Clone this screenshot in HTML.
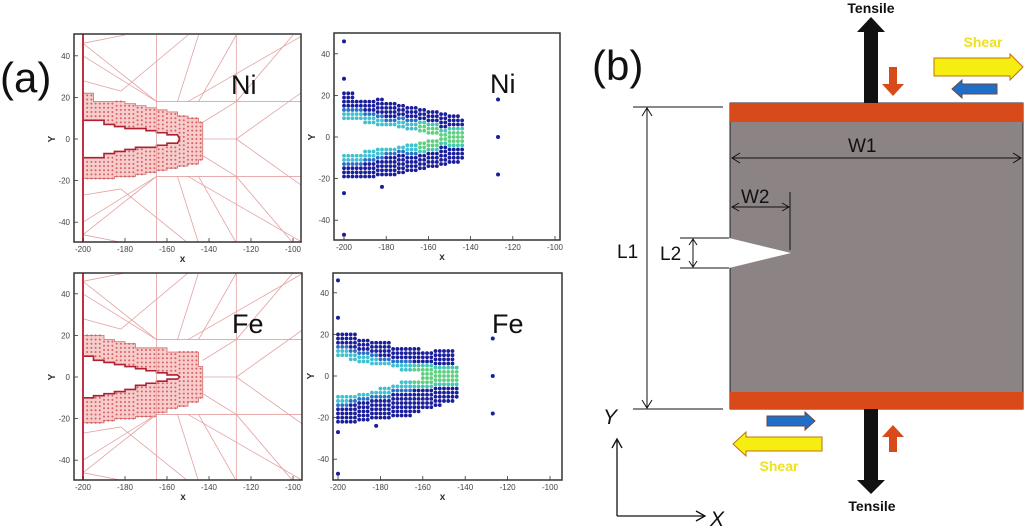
<!DOCTYPE html>
<html><head><meta charset="utf-8"><style>
html,body{margin:0;padding:0;background:#fff;}
svg{display:block;font-family:"Liberation Sans",Arial,sans-serif;}
</style></head><body>
<svg id="fig" width="1024" height="527" viewBox="0 0 1024 527">
<text x="0" y="92" font-size="42" fill="#111">(a)</text>
<text x="592" y="80" font-size="42" fill="#111">(b)</text>
<g id="panels"></g>
<g id="schematic">
  <rect x="730" y="103" width="293" height="306" fill="#8c8385" stroke="#222" stroke-width="1"/>
  <rect x="730" y="103" width="293" height="19" fill="#d84a1a"/>
  <rect x="730" y="392" width="293" height="17" fill="#d84a1a"/>
  <polygon points="729,238 791,253 729,268" fill="#fff"/>
  <g stroke="#111" stroke-width="1" fill="none">
    <line x1="633" y1="107" x2="723" y2="107"/><line x1="633" y1="409" x2="723" y2="409"/>
    <line x1="647" y1="108" x2="647" y2="408"/>
    <polyline points="642,116 647,108 652,116"/><polyline points="642,400 647,408 652,400"/>
    <line x1="732" y1="158" x2="1021" y2="158"/>
    <polyline points="740,153 732,158 740,163"/><polyline points="1013,153 1021,158 1013,163"/>
    <line x1="790" y1="192" x2="790" y2="250"/>
    <line x1="732" y1="207" x2="789" y2="207"/>
    <polyline points="739,203 732,207 739,211"/><polyline points="782,203 789,207 782,211"/>
    <line x1="680" y1="238" x2="729" y2="238"/><line x1="680" y1="268" x2="729" y2="268"/>
    <line x1="693" y1="239" x2="693" y2="267"/>
    <polyline points="689,245 693,239 697,245"/><polyline points="689,261 693,267 697,261"/>
  </g>
  <g font-size="19" fill="#111">
    <text x="848" y="152">W1</text><text x="741" y="203">W2</text>
    <text x="617" y="258">L1</text><text x="660" y="260">L2</text>
  </g>
  <polygon points="864,103 864,32 857,32 871,17 885,32 878,32 878,103" fill="#111"/>
  <text x="871" y="13" font-size="14" font-weight="bold" text-anchor="middle" fill="#111">Tensile</text>
  <polygon points="864,409 864,480 857,480 871,494 885,480 878,480 878,409" fill="#111"/>
  <text x="872" y="511" font-size="14" font-weight="bold" text-anchor="middle" fill="#111">Tensile</text>
  <polygon points="889,67 897,67 897,84 904,84 893,96 882,84 889,84" fill="#d84a1a"/>
  <polygon points="889,452 897,452 897,437 904,437 893,425 882,437 889,437" fill="#d84a1a"/>
  <polygon points="934,58 1010,58 1010,54 1023,67 1010,80 1010,76 934,76" fill="#f5ee10" stroke="#c07010" stroke-width="1"/>
  <polygon points="997,84 962,84 962,80 952,89 962,98 962,94 997,94" fill="#1f6fc8" stroke="#6a4a40" stroke-width="1"/>
  <text x="983" y="47" font-size="14" font-weight="bold" text-anchor="middle" fill="#f0e020">Shear</text>
  <polygon points="767,416 805,416 805,412 815,421 805,430 805,426 767,426" fill="#1f6fc8" stroke="#6a4a40" stroke-width="1"/>
  <polygon points="822,437 746,437 746,432 733,444 746,456 746,451 822,451" fill="#f5ee10" stroke="#c07010" stroke-width="1"/>
  <text x="779" y="471" font-size="14" font-weight="bold" text-anchor="middle" fill="#f0e020">Shear</text>
  <g stroke="#111" stroke-width="1.3" fill="none">
    <line x1="617" y1="516" x2="617" y2="440"/><polyline points="612,448 617,439 622,448"/>
    <line x1="617" y1="516" x2="704" y2="516"/><polyline points="696,511 705,516 696,521"/>
  </g>
  <text x="603" y="424" font-size="21" font-style="italic" fill="#111">Y</text>
  <text x="710" y="526" font-size="21" font-style="italic" fill="#111">X</text>
</g>
</svg>
<script>
// ---- data ----
const binX = [-200,-195,-190,-185,-180,-175,-170,-165,-160,-155,-150,-145];
const niOuterTop = [22,18,18,18,17,16,15,14,13,11,10,8];
const niInnerTop = [9,9,7,6,5,5,4,3,2,0,0,0];
const niInnerBot = [-9,-9,-7,-6,-5,-4,-4,-3,-2,0,0,0];
const niOuterBot = [-19,-19,-19,-18,-18,-17,-16,-15,-14,-13,-12,-10];
const feOuterTop = [20,20,18,17,16,14,14,14,12,12,12,5];
const feInnerTop = [10,8,7,6,5,4,3,2,1,0,0,0];
const feInnerBot = [-10,-9,-8,-7,-6,-4,-3,-2,-1,0,0,0];
const feOuterBot = [-22,-22,-21,-20,-20,-19,-19,-17,-15,-14,-12,-10];
const xTicks = [-200,-180,-160,-140,-120,-100];
const yTicks = [40,20,0,-20,-40];
const stray = [[-200,46],[-200,28],[-200,-27],[-200,-47],[-127,18],[-127,0],[-127,-18],[-182,-24]];
const meshSegs = [[-127,50,-127,-50],[-165,18,-95,18],[-165,-18,-95,-18],[-165,50,-165,-50],[-200,46,-165,18],[-200,-46,-165,-18],
 [-145,18,-127,50],[-145,-18,-127,-50],[-143,0,-127,0],[-127,0,-95,23],[-127,0,-95,-23],[-143,8,-127,18],[-143,-8,-127,-18],
 [-200,28,-182,23],[-200,-27,-182,-24],[-182,23,-150,50],[-182,-24,-150,-50],[-150,18,-95,50],[-150,-18,-95,-50],[-155,18,-145,50],[-155,-18,-145,-50],
 [-200,46,-180,50],[-200,-46,-180,-50],[-165,18,-200,40],[-165,-18,-200,-40],[-127,18,-100,50],[-127,-18,-100,-50]];

const panels = [
 {name:'ni-mesh', type:'mesh', x0:83, y0:139, sx:2.1, sy:2.08, box:[74,34,301,242], label:'Ni', oT:niOuterTop, iT:niInnerTop, iB:niInnerBot, oB:niOuterBot},
 {name:'ni-scatter', type:'scatter', x0:344, y0:137, sx:2.11, sy:2.08, box:[334,33,560,240], label:'Ni', oT:niOuterTop, iT:niInnerTop, iB:niInnerBot, oB:niOuterBot},
 {name:'fe-mesh', type:'mesh', x0:83, y0:377, sx:2.1, sy:2.08, box:[74,273,302,480], label:'Fe', oT:feOuterTop, iT:feInnerTop, iB:feInnerBot, oB:feOuterBot},
 {name:'fe-scatter', type:'scatter', x0:338, y0:376, sx:2.12, sy:2.08, box:[333,273,562,480], label:'Fe', oT:feOuterTop, iT:feInnerTop, iB:feInnerBot, oB:feOuterBot}
];
const NS='http://www.w3.org/2000/svg';
const root=document.getElementById('panels');
function mk(tag,attrs,parent){const e=document.createElementNS(NS,tag);for(const k in attrs)e.setAttribute(k,attrs[k]);parent.appendChild(e);return e;}
const XEND=-143;
panels.forEach(p=>{
  const g=mk('g',{},root);
  
  
  const X=v=>p.x0+(v+200)*p.sx, Y=v=>p.y0-v*p.sy;
  const [l,t,r,b]=p.box;
  const clipId='c'+p.name; const cp=mk('clipPath',{id:clipId},g); mk('rect',{x:l,y:t,width:r-l,height:b-t},cp);
  const inner=mk('g',{'clip-path':'url(#'+clipId+')'},g);
  const dots=[];
  for(let x=-200;x<=XEND;x+=2){
    const i=Math.min(binX.length-1,Math.floor((x+200)/5));
    for(let y=p.oB[i];y<=p.oT[i];y+=2){
      if(p.iT[i]>p.iB[i] && y<p.iT[i] && y>p.iB[i]) continue;
      const dEdge=p.iT[i]>p.iB[i]?Math.min(Math.abs(y-p.iT[i]),Math.abs(y-p.iB[i])):Math.abs(y);
      dots.push([x,y,dEdge,i]);
    }
  }
  const xe=v=>Math.min(v,XEND);
  if(p.type==='mesh'){
    let top='',bot='';
    binX.forEach((bx,i)=>{top+=X(bx)+','+Y(p.oT[i])+' '+X(xe(bx+5))+','+Y(p.oT[i])+' ';});
    for(let i=binX.length-1;i>=0;i--){bot+=X(xe(binX[i]+5))+','+Y(p.oB[i])+' '+X(binX[i])+','+Y(p.oB[i])+' ';}
    const reg=mk('polygon',{points:top+bot,fill:'#f6cccc',stroke:'#d87878','stroke-width':0.9},inner);
    
    
    dots.forEach(d=>{mk('circle',{cx:X(d[0]),cy:Y(d[1]),r:1,fill:'#d86060'},inner);});
    let crack='';
    binX.forEach((bx,i)=>{if(p.iT[i]>p.iB[i])crack+=X(bx)+','+Y(p.iT[i])+' '+X(bx+5)+','+Y(p.iT[i])+' ';});
    const tipI=p.iT.findIndex(v=>v<=0);crack+=X(binX[tipI]+1)+','+Y(0)+' ';
    for(let i=tipI-1;i>=0;i--){crack+=X(binX[i]+5)+','+Y(p.iB[i])+' '+X(binX[i])+','+Y(p.iB[i])+' ';}
    const cr=mk('polygon',{points:crack,fill:'#fff',stroke:'#b02030','stroke-width':1.6},inner);
    
    
    meshSegs.forEach(s=>{mk('line',{x1:X(s[0]),y1:Y(s[1]),x2:X(s[2]),y2:Y(s[3]),stroke:'#e4a0a0','stroke-width':0.8},inner);});
    mk('line',{x1:X(-200),y1:t,x2:X(-200),y2:b,stroke:'#c03040','stroke-width':2},inner);
  } else {
    dots.forEach(d=>{
      let col='#1a1e9a';
      if(d[2]<2.1) col = (d[3]>=7? '#60d080':'#40c0d0');
      else if(d[2]<4.1 && d[3]>=7) col='#40c8b0';
      else if(d[2]<4.1) col='#2a70c8';
      const c=mk('circle',{cx:X(d[0]),cy:Y(d[1]),r:1.9,fill:col},inner);
      
      
    });
    stray.forEach(s=>{mk('circle',{cx:X(s[0]),cy:Y(s[1]),r:2,fill:'#1a1e9a'},inner);});
  }
  mk('rect',{x:l,y:t,width:r-l,height:b-t,fill:'none',stroke:'#333','stroke-width':1.5},g);
  xTicks.forEach(v=>{
    mk('line',{x1:X(v),y1:b,x2:X(v),y2:b-4,stroke:'#333','stroke-width':0.8},g);
    const tx=mk('text',{x:X(v),y:b+10,'font-size':8,'text-anchor':'middle',fill:'#444'},g);tx.textContent=v;
  });
  yTicks.forEach(v=>{
    mk('line',{x1:l,y1:Y(v),x2:l+4,y2:Y(v),stroke:'#333','stroke-width':0.8},g);
    const tx=mk('text',{x:l-4,y:Y(v)+3,'font-size':8,'text-anchor':'end',fill:'#444'},g);tx.textContent=v;
  });
  const xl=mk('text',{x:(l+r)/2-5,y:b+20,'font-size':10,'font-weight':'bold','text-anchor':'middle',fill:'#333'},g);xl.textContent='x';
  const yl=mk('text',{x:l-22,y:Y(0)+3,'font-size':10,'font-weight':'bold','text-anchor':'middle',fill:'#333',transform:'rotate(-90 '+(l-22)+' '+(Y(0))+')'},g);yl.textContent='Y';
  const lab=mk('text',{x:r-70,y:t+60,'font-size':27,fill:'#111'},g);lab.textContent=p.label;
  
  
});
</script>
</body></html>
